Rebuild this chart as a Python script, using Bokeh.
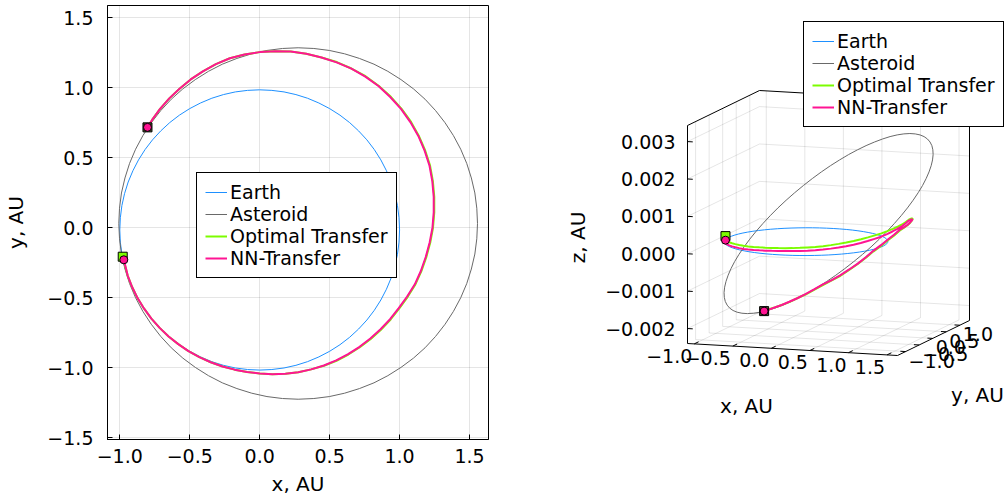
import numpy as np
from bokeh.plotting import figure
from bokeh.models import Range1d, FixedTicker, Legend, LegendItem, CustomJSTickFormatter
from bokeh.layouts import row
from bokeh.embed import file_html
from bokeh.resources import INLINE
from bokeh.core.properties import value

FONT = "DejaVu Sans"
C_EARTH = "#1E90FF"
C_AST = "#696969"
C_OPT = "#7CFC00"
C_NN = "#FF1493"
C_END = "#4a5d23"

# ---------------- data (AU) ----------------
earth_x = [1.000, 0.996, 0.985, 0.966, 0.940, 0.906, 0.866, 0.819, 0.766, 0.707, 0.643, 0.574,
           0.500, 0.423, 0.342, 0.259, 0.174, 0.087, 0.000, -0.087, -0.174, -0.259, -0.342,
           -0.423, -0.500, -0.574, -0.643, -0.707, -0.766, -0.819, -0.866, -0.906, -0.940,
           -0.966, -0.985, -0.996, -1.000, -0.996, -0.985, -0.966, -0.940, -0.906, -0.866,
           -0.819, -0.766, -0.707, -0.643, -0.574, -0.500, -0.423, -0.342, -0.259, -0.174,
           -0.087, 0.000, 0.087, 0.174, 0.259, 0.342, 0.423, 0.500, 0.574, 0.643, 0.707,
           0.766, 0.819, 0.866, 0.906, 0.940, 0.966, 0.985, 0.996, 1.000]
earth_y = [-0.016, 0.071, 0.158, 0.243, 0.326, 0.407, 0.484, 0.558, 0.627, 0.691, 0.750, 0.803,
           0.850, 0.890, 0.924, 0.950, 0.969, 0.980, 0.984, 0.980, 0.969, 0.950, 0.924,
           0.890, 0.850, 0.803, 0.750, 0.691, 0.627, 0.558, 0.484, 0.407, 0.326,
           0.243, 0.158, 0.071, -0.016, -0.103, -0.190, -0.275, -0.358, -0.439, -0.516,
           -0.590, -0.659, -0.723, -0.782, -0.835, -0.882, -0.922, -0.956, -0.982, -1.001,
           -1.012, -1.016, -1.012, -1.001, -0.982, -0.956, -0.922, -0.882, -0.835, -0.782,
           -0.723, -0.659, -0.590, -0.516, -0.439, -0.358, -0.275, -0.190, -0.103, -0.016]
earth_z = [0.0] * len(earth_x)

ast_x = [1.557, 1.552, 1.538, 1.513, 1.480, 1.437, 1.385, 1.325, 1.257, 1.182, 1.099, 1.010,
         0.916, 0.817, 0.713, 0.607, 0.498, 0.387, 0.275, 0.163, 0.052, -0.057, -0.163,
         -0.267, -0.366, -0.460, -0.549, -0.632, -0.707, -0.775, -0.835, -0.887, -0.930,
         -0.963, -0.988, -1.002, -1.007, -1.002, -0.988, -0.963, -0.930, -0.887, -0.835,
         -0.775, -0.707, -0.632, -0.549, -0.460, -0.366, -0.267, -0.163, -0.057, 0.052,
         0.163, 0.275, 0.387, 0.498, 0.607, 0.713, 0.817, 0.916, 1.010, 1.099, 1.182,
         1.257, 1.325, 1.385, 1.437, 1.480, 1.513, 1.538, 1.552, 1.557]
ast_y = [0.030, 0.139, 0.248, 0.355, 0.459, 0.560, 0.657, 0.749, 0.836, 0.917, 0.991, 1.057,
         1.116, 1.167, 1.208, 1.241, 1.265, 1.279, 1.284, 1.279, 1.265, 1.241, 1.208,
         1.167, 1.116, 1.057, 0.991, 0.917, 0.836, 0.749, 0.657, 0.560, 0.459,
         0.355, 0.248, 0.139, 0.030, -0.079, -0.188, -0.295, -0.399, -0.500, -0.597,
         -0.689, -0.776, -0.857, -0.931, -0.997, -1.056, -1.107, -1.148, -1.181, -1.205,
         -1.219, -1.224, -1.219, -1.205, -1.181, -1.148, -1.107, -1.056, -0.997, -0.931,
         -0.857, -0.776, -0.689, -0.597, -0.500, -0.399, -0.295, -0.188, -0.079, 0.030]
ast_z_mAU = [2.913, 2.794, 2.656, 2.504, 2.335, 2.152, 1.957, 1.751, 1.535, 1.312, 1.082, 0.848,
             0.611, 0.374, 0.136, -0.097, -0.327, -0.550, -0.765, -0.970, -1.165, -1.347, -1.514,
             -1.666, -1.803, -1.920, -2.020, -2.100, -2.161, -2.203, -2.223, -2.222, -2.201,
             -2.158, -2.096, -2.014, -1.913, -1.794, -1.656, -1.504, -1.335, -1.152, -0.957,
             -0.751, -0.535, -0.312, -0.082, 0.152, 0.389, 0.626, 0.864, 1.097, 1.327,
             1.550, 1.765, 1.970, 2.165, 2.347, 2.514, 2.666, 2.803, 2.920, 3.020, 3.100,
             3.161, 3.203, 3.223, 3.222, 3.201, 3.158, 3.096, 3.014, 2.913]

nn_x = [-0.971, -0.943, -0.911, -0.872, -0.826, -0.774, -0.715, -0.651, -0.582, -0.509, -0.431,
        -0.350, -0.265, -0.179, -0.090, 0.000, 0.091, 0.184, 0.276, 0.368, 0.459, 0.547,
        0.632, 0.714, 0.791, 0.864, 0.932, 0.994, 1.054, 1.109, 1.152, 1.187, 1.215,
        1.235, 1.244, 1.244, 1.234, 1.214, 1.179, 1.134, 1.077, 1.010, 0.933, 0.849,
        0.755, 0.656, 0.550, 0.442, 0.333, 0.222, 0.110, 0.000, -0.108, -0.213, -0.313,
        -0.406, -0.493, -0.573, -0.646, -0.712, -0.769, -0.802]
nn_y = [-0.229, -0.343, -0.425, -0.504, -0.578, -0.649, -0.715, -0.776, -0.831, -0.881, -0.924,
        -0.960, -0.990, -1.013, -1.030, -1.040, -1.045, -1.042, -1.031, -1.011, -0.983, -0.947,
        -0.902, -0.850, -0.791, -0.725, -0.653, -0.574, -0.491, -0.404, -0.309, -0.209, -0.106,
        0.000, 0.109, 0.219, 0.331, 0.442, 0.550, 0.655, 0.754, 0.848, 0.933, 1.011,
        1.078, 1.135, 1.180, 1.215, 1.241, 1.257, 1.260, 1.253, 1.236, 1.209, 1.167,
        1.115, 1.058, 0.992, 0.923, 0.848, 0.769, 0.716]
nn_z_mAU = [0.000, 0.010, 0.015, 0.020, 0.025, 0.030, 0.035, 0.040, 0.045, 0.050, 0.060,
            0.070, 0.080, 0.090, 0.100, 0.110, 0.120, 0.130, 0.140, 0.150, 0.165, 0.180,
            0.200, 0.220, 0.245, 0.270, 0.300, 0.330, 0.365, 0.400, 0.440, 0.480, 0.515,
            0.550, 0.590, 0.620, 0.610, 0.580, 0.530, 0.460, 0.370, 0.260, 0.160, 0.050,
            -0.110, -0.270, -0.450, -0.620, -0.820, -1.010, -1.180, -1.340, -1.480, -1.600, -1.730,
            -1.850, -1.950, -2.030, -2.100, -2.150, -2.190, -2.210]

opt_x = [-0.979, -0.943, -0.911, -0.872, -0.826, -0.774, -0.715, -0.651, -0.582, -0.509, -0.431,
         -0.350, -0.265, -0.179, -0.090, 0.000, 0.091, 0.184, 0.276, 0.368, 0.459, 0.549,
         0.634, 0.716, 0.794, 0.867, 0.936, 0.998, 1.058, 1.113, 1.156, 1.191, 1.219,
         1.239, 1.248, 1.248, 1.238, 1.218, 1.183, 1.137, 1.081, 1.013, 0.936, 0.850,
         0.757, 0.656, 0.551, 0.442, 0.333, 0.222, 0.110, 0.000, -0.108, -0.213, -0.313,
         -0.406, -0.493, -0.573, -0.646, -0.712, -0.769, -0.802]
opt_y = [-0.207, -0.343, -0.425, -0.504, -0.578, -0.649, -0.715, -0.776, -0.831, -0.881, -0.924,
         -0.960, -0.990, -1.013, -1.030, -1.040, -1.045, -1.042, -1.031, -1.011, -0.985, -0.950,
         -0.905, -0.853, -0.794, -0.728, -0.655, -0.576, -0.493, -0.405, -0.310, -0.210, -0.107,
         0.000, 0.109, 0.220, 0.332, 0.443, 0.551, 0.657, 0.757, 0.850, 0.936, 1.013,
         1.081, 1.136, 1.182, 1.215, 1.241, 1.257, 1.260, 1.253, 1.236, 1.209, 1.167,
         1.115, 1.058, 0.992, 0.923, 0.848, 0.769, 0.716]
opt_z_mAU = [0.100, 0.100, 0.100, 0.105, 0.110, 0.115, 0.120, 0.125, 0.130, 0.135, 0.140,
             0.150, 0.160, 0.170, 0.180, 0.190, 0.200, 0.210, 0.225, 0.240, 0.250, 0.270,
             0.295, 0.320, 0.345, 0.370, 0.400, 0.430, 0.460, 0.490, 0.520, 0.550, 0.575,
             0.600, 0.630, 0.650, 0.640, 0.600, 0.540, 0.470, 0.370, 0.260, 0.150, 0.030,
             -0.130, -0.290, -0.470, -0.640, -0.830, -1.020, -1.190, -1.360, -1.490, -1.620, -1.740,
             -1.860, -1.950, -2.040, -2.100, -2.150, -2.180, -2.210]

labels = ["Earth", "Asteroid", "Optimal Transfer", "NN-Transfer"]
xticks2d = [-1.0, -0.5, 0.0, 0.5, 1.0, 1.5]
yticks2d = [-1.5, -1.0, -0.5, 0.0, 0.5, 1.0, 1.5]
xticks3d = [-1.0, -0.5, 0.0, 0.5, 1.0, 1.5]
yticks3d = [-1.0, -0.5, 0.0, 0.5, 1.0]
zticks3d = [-0.002, -0.001, 0.0, 0.001, 0.002, 0.003]

ast_z = [v * 1e-3 for v in ast_z_mAU]
opt_z = [v * 1e-3 for v in opt_z_mAU]
nn_z = [v * 1e-3 for v in nn_z_mAU]

# ---------------- left: 2D view ----------------
p1 = figure(width=500, height=500, x_range=Range1d(-1.0878, 1.6356),
            y_range=Range1d(-1.5114, 1.5857), output_backend="svg",
            toolbar_location=None, min_border_left=107, min_border_right=12,
            min_border_top=5, min_border_bottom=61,
            x_axis_label="x, AU", y_axis_label="y, AU")
p1.outline_line_color = "black"
p1.outline_line_alpha = 1.0
fmt = CustomJSTickFormatter(code="return tick.toFixed(1).replace('-', '\u2212');")
for ax, ticks in ((p1.xaxis[0], xticks2d), (p1.yaxis[0], yticks2d)):
    ax.ticker = FixedTicker(ticks=ticks)
    ax.formatter = fmt
    ax.major_label_text_font = FONT
    ax.major_label_text_font_size = "19px"
    ax.major_label_text_color = "black"
    ax.axis_label_text_font = FONT
    ax.axis_label_text_font_size = "20px"
    ax.axis_label_text_font_style = "normal"
    ax.axis_label_text_color = "black"
    ax.major_tick_in = 5
    ax.major_tick_out = 0
    ax.minor_tick_in = 0
    ax.minor_tick_out = 0
    ax.axis_line_color = "black"
    ax.major_tick_line_color = "black"
p1.xaxis[0].major_label_standoff = 9
p1.xaxis[0].axis_label_standoff = 6
p1.yaxis[0].major_label_standoff = 14
p1.yaxis[0].axis_label_standoff = 16
p1.grid.grid_line_color = "black"
p1.grid.grid_line_alpha = 0.1

r_e = p1.line(earth_x, earth_y, line_color=C_EARTH, line_width=1)
r_a = p1.line(ast_x, ast_y, line_color=C_AST, line_width=1)
r_o = p1.line(opt_x, opt_y, line_color=C_OPT, line_width=2)
r_n = p1.line(nn_x, nn_y, line_color=C_NN, line_width=2)
p1.scatter([opt_x[0]], [opt_y[0]], marker="square", size=9,
           fill_color=C_OPT, line_color="black")
p1.scatter([opt_x[-1]], [opt_y[-1]], marker="square", size=9,
           fill_color=C_END, line_color="black")
p1.scatter([nn_x[0], nn_x[-1]], [nn_y[0], nn_y[-1]], marker="circle", size=8,
           fill_color=C_NN, line_color="black")


def make_legend(renderers, loc):
    lg = Legend(items=[LegendItem(label=l, renderers=[r]) for l, r in zip(labels, renderers)],
                location=loc)
    lg.label_text_font = FONT
    lg.label_text_font_size = "19px"
    lg.label_text_color = "black"
    lg.glyph_width = 22
    lg.glyph_height = 22
    lg.label_height = 22
    lg.label_standoff = 3
    lg.padding = 8
    lg.spacing = 0
    lg.margin = 0
    lg.border_line_color = "black"
    lg.border_line_alpha = 1.0
    lg.border_line_width = 1
    lg.background_fill_alpha = 1.0
    return lg


p1.add_layout(make_legend([r_e, r_a, r_o, r_n], (89, 161)))

# ---------------- right: 3D view (orthographic projection) ----------------
# the frame is aligned with the left one (top 5 px, bottom 61 px), data units = page pixels
W2, H = 508, 500
XOFF = 500
TOP, BOT = 5, 61
p2 = figure(width=W2, height=H, x_range=Range1d(XOFF, XOFF + W2), y_range=Range1d(BOT, H - TOP),
            output_backend="svg", toolbar_location=None, min_border_left=0,
            min_border_right=0, min_border_top=TOP, min_border_bottom=BOT,
            x_axis_type=None, y_axis_type=None)
p2.outline_line_color = None
p2.grid.visible = False

BX = (-1.0878, 1.6356)
BY = (-1.299, 1.359)
BZ = (-0.0024, 0.00343)
O = (687.0, 343.0)
EX = (210.0, 12.0)
EY = (72.0, -35.0)
EZ = (0.0, -218.0)


def proj(x, y, z):
    x = np.asarray(x, float)
    y = np.asarray(y, float)
    z = np.asarray(z, float)
    fx = (x - BX[0]) / (BX[1] - BX[0])
    fy = (y - BY[0]) / (BY[1] - BY[0])
    fz = (z - BZ[0]) / (BZ[1] - BZ[0])
    X = O[0] + EX[0] * fx + EY[0] * fy + EZ[0] * fz
    Y = O[1] + EX[1] * fx + EY[1] * fy + EZ[1] * fz
    return X, H - Y


def seg(a, b):
    X, Y = proj([a[0], b[0]], [a[1], b[1]], [a[2], b[2]])
    return list(X), list(Y)


x0, x1 = BX
y0, y1 = BY
z0, z1 = BZ
gxs, gys = [], []
for v in xticks3d:
    for a, b in (((v, y0, z0), (v, y1, z0)), ((v, y1, z0), (v, y1, z1))):
        sx, sy = seg(a, b); gxs.append(sx); gys.append(sy)
for v in yticks3d:
    for a, b in (((x0, v, z0), (x1, v, z0)), ((x0, v, z0), (x0, v, z1))):
        sx, sy = seg(a, b); gxs.append(sx); gys.append(sy)
for v in zticks3d:
    for a, b in (((x0, y1, v), (x1, y1, v)), ((x0, y0, v), (x0, y1, v))):
        sx, sy = seg(a, b); gxs.append(sx); gys.append(sy)
p2.multi_line(gxs, gys, line_color="black", line_alpha=0.1, line_width=1)

bxs, bys = [], []
for a, b in (((x0, y0, z0), (x0, y0, z1)), ((x0, y0, z1), (x0, y1, z1)),
             ((x0, y1, z1), (x1, y1, z1)), ((x1, y1, z0), (x1, y1, z1)),
             ((x0, y0, z0), (x1, y0, z0)), ((x1, y0, z0), (x1, y1, z0))):
    sx, sy = seg(a, b); bxs.append(sx); bys.append(sy)
dx = 0.025 * (x1 - x0)
dy = 0.06 * (y1 - y0)
for v in zticks3d:
    sx, sy = seg((x0, y0, v), (x0 + dx, y0, v)); bxs.append(sx); bys.append(sy)
for v in xticks3d:
    sx, sy = seg((v, y0, z0), (v, y0 + dy, z0)); bxs.append(sx); bys.append(sy)
for v in yticks3d:
    sx, sy = seg((x1, v, z0), (x1 - dx, v, z0)); bxs.append(sx); bys.append(sy)
p2.multi_line(bxs, bys, line_color="black", line_width=1)

TXT = dict(text_font=value(FONT), text_font_size="19px", text_color="black")
X, Y = proj(xticks3d, [y0] * len(xticks3d), [z0] * len(xticks3d))
p2.text(X - 2, Y - 5, text=[f"{v:.1f}".replace("-", "\u2212") for v in xticks3d],
        text_align="right", text_baseline="top", **TXT)
X, Y = proj([x1] * len(yticks3d), yticks3d, [z0] * len(yticks3d))
p2.text(X + 3, Y - 2, text=[f"{v:.1f}".replace("-", "\u2212") for v in yticks3d],
        text_align="left", text_baseline="top", **TXT)
X, Y = proj([x0] * len(zticks3d), [y0] * len(zticks3d), zticks3d)
p2.text(X - 12, Y, text=[f"{v:.3f}".replace("-", "\u2212") for v in zticks3d],
        text_align="right", text_baseline="middle", **TXT)

LBL = dict(text_font=value(FONT), text_font_size="20px", text_color="black",
           text_align="center", text_baseline="middle")
mx, my = proj([(x0 + x1) / 2], [y0], [z0])
p2.text(mx - 46, my - 56, text=["x, AU"], **LBL)
mx, my = proj([x1], [(y0 + y1) / 2], [z0])
p2.text(mx + 44, my - 57, text=["y, AU"], **LBL)
mx, my = proj([x0], [y0], [(z0 + z1) / 2])
p2.text(mx - 110, my - 3, text=["z, AU"], angle=np.pi / 2, **LBL)

X, Y = proj(earth_x, earth_y, earth_z)
q_e = p2.line(X, Y, line_color=C_EARTH, line_width=1)
X, Y = proj(ast_x, ast_y, ast_z)
q_a = p2.line(X, Y, line_color=C_AST, line_width=1)
X, Y = proj(opt_x, opt_y, opt_z)
q_o = p2.line(X, Y, line_color=C_OPT, line_width=2)
X, Y = proj(nn_x, nn_y, nn_z)
q_n = p2.line(X, Y, line_color=C_NN, line_width=2)
X, Y = proj([opt_x[0]], [opt_y[0]], [opt_z[0]])
p2.scatter(X, Y, marker="square", size=9, fill_color=C_OPT, line_color="black")
X, Y = proj([opt_x[-1]], [opt_y[-1]], [opt_z[-1]])
p2.scatter(X, Y, marker="square", size=9, fill_color=C_END, line_color="black")
X, Y = proj([nn_x[0], nn_x[-1]], [nn_y[0], nn_y[-1]], [nn_z[0], nn_z[-1]])
p2.scatter(X, Y, marker="circle", size=8, fill_color=C_NN, line_color="black")

# legend box: left edge at page x 803, vertically centred on page y 75
p2.add_layout(make_legend([q_e, q_a, q_o, q_n], (303, 312)))

layout = row(p1, p2)
open("out.html", "w").write(file_html(layout, INLINE))
